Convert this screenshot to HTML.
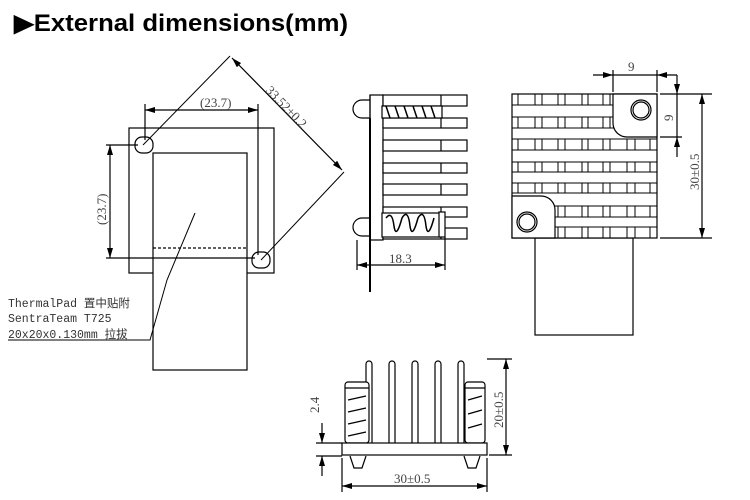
<!DOCTYPE html>
<html><head><meta charset="utf-8"><style>
html,body{margin:0;padding:0;background:#fff;}
svg{display:block;}
.t{font-family:"Liberation Serif",serif;fill:#444;}
</style></head><body>
<svg width="750" height="500" viewBox="0 0 750 500" xmlns="http://www.w3.org/2000/svg">
<defs>
<marker id="a" viewBox="0 0 10 6" refX="10" refY="3" markerWidth="10" markerHeight="6" orient="auto-start-reverse" markerUnits="userSpaceOnUse"><path d="M0,0 L10,3 L0,6 z" fill="#000"/></marker>
</defs>
<text x="14" y="31" font-family="Liberation Sans, sans-serif" font-weight="bold" font-size="24" textLength="334" lengthAdjust="spacingAndGlyphs">▶External dimensions(mm)</text>

<g stroke="#000" stroke-width="1.2" fill="none">
<!-- LEFT VIEW -->
<rect x="129" y="128" width="145" height="145"/>
<rect x="153" y="153" width="94" height="217" fill="#fff"/>
<line x1="153" y1="248" x2="247" y2="248" stroke-dasharray="3,2"/>
<rect x="135" y="137" width="18" height="16" rx="7" fill="#fff"/>
<rect x="252" y="252" width="18" height="16" rx="7" fill="#fff"/>
<line x1="145" y1="110" x2="258" y2="110" marker-start="url(#a)" marker-end="url(#a)"/>
<line x1="145" y1="104" x2="145" y2="140"/>
<line x1="258" y1="104" x2="258" y2="255"/>
<line x1="106" y1="145" x2="138" y2="145"/>
<line x1="106" y1="258" x2="255" y2="258"/>
<line x1="110" y1="145" x2="110" y2="258" marker-start="url(#a)" marker-end="url(#a)"/>
<line x1="143" y1="145" x2="230" y2="56" stroke-width="1"/>
<line x1="261" y1="260" x2="344" y2="172" stroke-width="1"/>
<line x1="232" y1="58" x2="342" y2="170" marker-start="url(#a)" marker-end="url(#a)"/>
<polyline points="144,340 150,340 167,280 195,213" stroke-width="1"/>

<!-- SIDE VIEW -->
<rect x="370" y="95" width="13" height="145"/>
<line x1="370" y1="118" x2="370" y2="292" stroke-width="2"/>
<path d="M370,95 L370,118 L362,118 A9,9 0 0 1 362,100 L370,100"/>
<path d="M370,218 L362,218 A9,9 0 0 0 362,236 L370,236"/>
<g fill="#fff">
<rect x="383" y="95" width="84" height="11"/>
<rect x="383" y="118" width="84" height="10"/>
<rect x="383" y="140" width="84" height="11"/>
<rect x="383" y="163" width="84" height="10"/>
<rect x="383" y="184" width="84" height="11"/>
<rect x="383" y="207" width="84" height="10"/>
<rect x="383" y="228" width="84" height="11"/>
</g>
<path d="M441,95V106 M441,118V128 M441,140V151 M441,163V173 M441,184V195 M441,207V217 M441,228V239"/>
<rect x="382" y="106" width="60" height="12" fill="#fff"/>
<rect x="382" y="213" width="58" height="24" fill="#fff"/>
<rect x="439" y="212" width="6" height="25" fill="#fff"/>
<path d="M386,106 L390,118 M395,106 L399,118 M404,106 L408,118 M413,106 L417,118 M422,106 L426,118 M431,106 L435,118" stroke-width="1.5"/>
<path d="M386,218 q6,-8 8,8 q2,14 8,-8 q6,-10 8,8 q2,14 8,-8 q6,-10 8,8 q2,14 8,-8" stroke-width="1.5"/>
<line x1="357" y1="240" x2="357" y2="270"/>
<line x1="445" y1="237" x2="445" y2="270"/>
<line x1="357" y1="265" x2="445" y2="265" marker-start="url(#a)" marker-end="url(#a)"/>

<!-- TOP VIEW -->
<rect x="535" y="238" width="98" height="97"/>
<rect x="512" y="94" width="145" height="144" fill="#fff"/>
<g stroke-width="1">
<path d="M512,105H657 M512,117H657 M512,128H657 M512,139H657 M512,150H657 M512,162H657 M512,172H657 M512,183H657 M512,193H657 M512,206H657 M512,217H657 M512,227H657"/>
<path d="M518,94V105 M535,94V105 M542,94V105 M558,94V105 M565,94V105 M582,94V105 M588,94V105 M603,94V105 M610,94V105
M518,117V128 M535,117V128 M542,117V128 M558,117V128 M565,117V128 M582,117V128 M588,117V128 M603,117V128 M610,117V128
M518,139V150 M535,139V150 M542,139V150 M558,139V150 M565,139V150 M582,139V150 M588,139V150 M603,139V150 M610,139V150 M627,139V150 M635,139V150 M650,139V150
M518,162V172 M535,162V172 M542,162V172 M558,162V172 M565,162V172 M582,162V172 M588,162V172 M603,162V172 M610,162V172 M627,162V172 M635,162V172 M650,162V172
M518,183V193 M535,183V193 M542,183V193 M558,183V193 M565,183V193 M582,183V193 M588,183V193 M603,183V193 M610,183V193 M627,183V193 M635,183V193 M650,183V193
M558,206V217 M565,206V217 M582,206V217 M588,206V217 M603,206V217 M610,206V217 M627,206V217 M635,206V217 M650,206V217
M558,227V238 M565,227V238 M582,227V238 M588,227V238 M603,227V238 M610,227V238 M627,227V238 M635,227V238 M650,227V238"/>
</g>
<path d="M613,94 V123 A14,14 0 0 0 627,137 H657 V94 Z" fill="#fff"/>
<path d="M512,196 H541 A14,14 0 0 1 555,210 V238 H512 Z" fill="#fff"/>
<circle cx="641" cy="110" r="10" fill="#fff"/><circle cx="641" cy="110" r="8"/>
<circle cx="527" cy="222" r="10" fill="#fff"/><circle cx="527" cy="222" r="8"/>
<line x1="613" y1="70" x2="613" y2="92"/>
<line x1="657" y1="70" x2="657" y2="92"/>
<line x1="593" y1="75" x2="613" y2="75" marker-end="url(#a)"/>
<line x1="613" y1="75" x2="657" y2="75"/>
<line x1="677" y1="75" x2="657" y2="75" marker-end="url(#a)"/>
<line x1="660" y1="94" x2="712" y2="94"/>
<line x1="660" y1="137" x2="682" y2="137"/>
<line x1="660" y1="238" x2="712" y2="238"/>
<line x1="677" y1="75" x2="677" y2="94" marker-end="url(#a)"/>
<line x1="677" y1="94" x2="677" y2="137"/>
<line x1="677" y1="157" x2="677" y2="137" marker-end="url(#a)"/>
<line x1="702" y1="94" x2="702" y2="238" marker-start="url(#a)" marker-end="url(#a)"/>

<!-- FRONT VIEW -->
<g fill="#fff">
<path d="M366,443 V364 A3,3 0 0 1 372,364 V443"/>
<path d="M389,443 V364 A3,3 0 0 1 395,364 V443"/>
<path d="M412,443 V364 A3,3 0 0 1 418,364 V443"/>
<path d="M435,443 V364 A3,3 0 0 1 441,364 V443"/>
<path d="M458,443 V364 A3,3 0 0 1 464,364 V443"/>
<rect x="345" y="382" width="24" height="61" rx="3"/>
<rect x="465" y="382" width="20" height="61" rx="3"/>
<rect x="342" y="443" width="145" height="12"/>
<path d="M350,456 l4,12 h8 l4,-12"/>
<path d="M464,456 l4,12 h8 l4,-12"/>
</g>
<line x1="345" y1="388" x2="369" y2="388"/>
<line x1="465" y1="388" x2="485" y2="388"/>
<path d="M348,400 l18,-4 M348,412 l18,-4 M348,424 l18,-4 M348,436 l18,-4 M468,400 l14,-4 M468,414 l14,-4 M468,428 l14,-4" stroke-width="1.3"/>
<line x1="487" y1="359" x2="512" y2="359"/>
<line x1="489" y1="455" x2="512" y2="455"/>
<line x1="506" y1="359" x2="506" y2="455" marker-start="url(#a)" marker-end="url(#a)"/>
<line x1="316" y1="443" x2="342" y2="443"/>
<line x1="316" y1="456" x2="342" y2="456"/>
<line x1="322" y1="423" x2="322" y2="443" marker-end="url(#a)"/>
<line x1="322" y1="476" x2="322" y2="456" marker-end="url(#a)"/>
<line x1="342" y1="458" x2="342" y2="492"/>
<line x1="487" y1="458" x2="487" y2="492"/>
<line x1="342" y1="486" x2="487" y2="486" marker-start="url(#a)" marker-end="url(#a)"/>
</g>

<g class="t" font-size="13">
<text x="200" y="107">(23.7)</text>
<text transform="translate(106,225) rotate(-90)">(23.7)</text>
<text transform="translate(265,91) rotate(46)">33.52±0.2</text>
<text x="389" y="263">18.3</text>
<text x="628" y="71">9</text>
<text transform="translate(673,121) rotate(-90)">9</text>
<text transform="translate(699,190) rotate(-90)">30±0.5</text>
<text transform="translate(503,428) rotate(-90)">20±0.5</text>
<text transform="translate(319,413) rotate(-90)">2.4</text>
<text x="394" y="483">30±0.5</text>
</g>
<g font-family="Liberation Mono, Noto Sans CJK SC, monospace" font-size="11.5" fill="#333">
<text x="8" y="307">ThermalPad 置中贴附</text>
<text x="8" y="322">SentraTeam T725</text>
<text x="8" y="338">20x20x0.130mm 拉拔</text>
</g>
<line x1="8" y1="340" x2="144" y2="340" stroke="#000" stroke-width="1"/>
</svg>
</body></html>
